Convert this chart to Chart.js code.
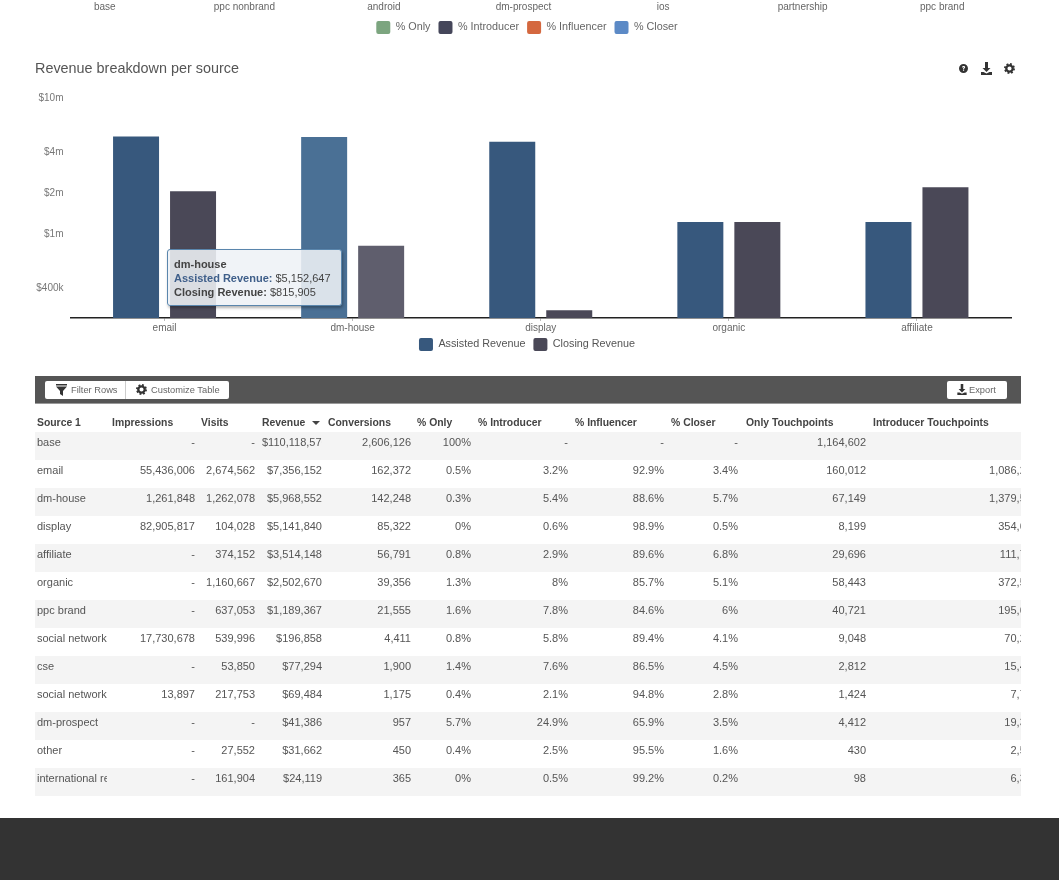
<!DOCTYPE html>
<html>
<head>
<meta charset="utf-8">
<title>Revenue breakdown per source</title>
<script src="https://cdn.jsdelivr.net/npm/chart.js@4"></script>
<style>
  html, body { margin: 0; padding: 0; background: #fff; }
  body { width: 1059px; height: 880px; overflow: hidden; position: relative; font-family: "Liberation Sans", Arial, sans-serif; color: #555; }
  canvas { position: absolute; left: 0; }
  #title { position: absolute; left: 35px; top: 59px; font-size: 14.4px; line-height: 19px; color: #555; will-change: transform; }
  .icon { position: absolute; fill: #333; }
  #tip { position: absolute; left: 167px; top: 249px; width: 175px; height: 57px; box-sizing: border-box; padding: 7px 0 0 6px; font-size: 11px; line-height: 14px; color: #444; background: rgba(238,241,246,.88); border: 1px solid #5a86ad; border-radius: 3px; box-shadow: 1px 2px 3px rgba(0,0,0,.3); will-change: transform; }
  #tip b.a { color: #3f5f8a; }
  #toolbar { position: absolute; left: 35px; top: 376px; width: 986px; height: 28px; background: #555; border-bottom: 1px solid #999; box-sizing: border-box; will-change: transform; }
  .btn { position: absolute; top: 5px; height: 18px; box-sizing: border-box; background: #fff; font-size: 9.3px; line-height: 18px; color: #666; white-space: nowrap; }
  .btn svg { position: absolute; top: 3px; fill: #333; }
  #table { position: absolute; left: 35px; top: 410px; width: 986px; height: 386px; overflow: hidden; font-size: 11px; will-change: transform; }
  .row { position: absolute; left: 0; width: 986px; height: 28px; }
  .cell { position: absolute; top: 4px; line-height: 13px; overflow: hidden; white-space: nowrap; text-align: right; }
  .head { position: absolute; top: 6px; line-height: 13px; font-weight: bold; font-size: 10.4px; color: #444; white-space: nowrap; }
  #footer { position: absolute; left: 0; top: 818px; width: 1059px; height: 62px; background: #333; }
</style>
</head>
<body>
<svg width="0" height="0" style="position:absolute">
  <symbol id="gear" viewBox="0 0 24 24">
    <circle cx="12" cy="12" r="7" fill="none" stroke="#333" stroke-width="5"/>
    <circle cx="12" cy="12" r="10" fill="none" stroke="#333" stroke-width="4" stroke-dasharray="4 3.854"/>
  </symbol>
  <symbol id="dl" viewBox="0 0 11 13"><path fill="#333" d="M4 0h3v6h2.500L5.500 10 1.500 6H4zM0 10h2.500l3 1.500 3-1.500H11v3H0z"/></symbol>
</svg>
<canvas id="topChart" width="1059" height="144" style="top:-100px"></canvas>
<div id="title">Revenue breakdown per source</div>
<svg class="icon" style="left:959px;top:64px" width="9" height="9" viewBox="0 0 10 10"><path fill-rule="evenodd" d="M5 0a5 5 0 1 1 0 10A5 5 0 0 1 5 0zM3.400 3.900h1.300c0-.5.700-.6.700-.1 0 .5-1 .7-1 1.800h1.200c0-.8 1.200-1 1.200-2 0-1.900-3.400-1.900-3.400.3zM4.400 6.200v1.300h1.300V6.200z"/></svg>
<svg class="icon" style="left:981px;top:62px" width="11" height="13"><use href="#dl"/></svg>
<svg class="icon" style="left:1004px;top:63px" width="11" height="11"><use href="#gear"/></svg>
<canvas id="revChart" width="1059" height="281" style="top:85px"></canvas>
<div id="tip"></div>
<div id="toolbar">
  <div class="btn" style="left:10px;width:81px;padding-left:26px;border-right:1px solid #ccc;border-radius:2px 0 0 2px">
    <svg style="left:11px" width="11" height="12" viewBox="0 0 11 12"><path d="M0 0h11v1.500H0zM0 2.500h11L7 7v5L4 10V7z"/></svg>Filter Rows</div>
  <div class="btn" style="left:91px;width:103px;padding-left:25px;border-radius:0 2px 2px 0">
    <svg style="left:10px" width="11" height="11"><use href="#gear"/></svg>Customize Table</div>
  <div class="btn" style="left:912px;width:60px;padding-left:22px;border-radius:2px">
    <svg style="left:10px" width="10" height="11"><use href="#dl"/></svg>Export</div>
</div>
<div id="table"></div>
<div id="footer"></div>

<script>
// previous panel, only its axis labels and legend are still on screen
const topLabels = ['base', 'ppc nonbrand', 'android', 'dm-prospect', 'ios', 'partnership', 'ppc brand'];
const topSeries = ['% Only', '% Introducer', '% Influencer', '% Closer'];
const topColors = ['#7ca57f', '#45465a', '#d4683f', '#5c8ac6'];

// revenue chart
const sources = ['email', 'dm-house', 'display', 'organic', 'affiliate'];
const assistedRevenue = [5200000, 5152647, 4770000, 1220000, 1220000];
const closingRevenue = [2060000, 815905, 274000, 1220000, 2200000];
const yTicks = [400000, 1000000, 2000000, 4000000, 10000000];
const hoveredIndex = 1;

// table
const tableHeads = ['Source 1', 'Impressions', 'Visits', 'Revenue', 'Conversions', '% Only', '% Introducer', '% Influencer', '% Closer', 'Only Touchpoints', 'Introducer Touchpoints'];
const tableSources = ['base', 'email', 'dm-house', 'display', 'affiliate', 'organic', 'ppc brand', 'social network', 'cse', 'social network', 'dm-prospect', 'other', 'international reach'];
const impressions = ['-', '55,436,006', '1,261,848', '82,905,817', '-', '-', '-', '17,730,678', '-', '13,897', '-', '-', '-'];
const visits = ['-', '2,674,562', '1,262,078', '104,028', '374,152', '1,160,667', '637,053', '539,996', '53,850', '217,753', '-', '27,552', '161,904'];
const revenue = ['$110,118,570', '$7,356,152', '$5,968,552', '$5,141,840', '$3,514,148', '$2,502,670', '$1,189,367', '$196,858', '$77,294', '$69,484', '$41,386', '$31,662', '$24,119'];
const conversions = ['2,606,126', '162,372', '142,248', '85,322', '56,791', '39,356', '21,555', '4,411', '1,900', '1,175', '957', '450', '365'];
const pctOnly = ['100%', '0.5%', '0.3%', '0%', '0.8%', '1.3%', '1.6%', '0.8%', '1.4%', '0.4%', '5.7%', '0.4%', '0%'];
const pctIntroducer = ['-', '3.2%', '5.4%', '0.6%', '2.9%', '8%', '7.8%', '5.8%', '7.6%', '2.1%', '24.9%', '2.5%', '0.5%'];
const pctInfluencer = ['-', '92.9%', '88.6%', '98.9%', '89.6%', '85.7%', '84.6%', '89.4%', '86.5%', '94.8%', '65.9%', '95.5%', '99.2%'];
const pctCloser = ['-', '3.4%', '5.7%', '0.5%', '6.8%', '5.1%', '6%', '4.1%', '4.5%', '2.8%', '3.5%', '1.6%', '0.2%'];
const onlyTouch = ['1,164,602', '160,012', '67,149', '8,199', '29,696', '58,443', '40,721', '9,048', '2,812', '1,424', '4,412', '430', '98'];
const introTouch = ['', '1,086,240', '1,379,510', '354,610', '111,720', '372,510', '195,610', '70,240', '15,410', '7,720', '19,310', '2,510', '6,310'];

const fontName = '"Liberation Sans", Arial, sans-serif';
Chart.defaults.animation = false;
Chart.defaults.font.family = fontName;

// legend sits closer to the axis than chart.js would put it
const legendNudge = {
    id: 'legendNudge',
    afterLayout(chart, args, opts) { chart.legend.top += opts.dy; }
};

// invisible right hand axis, keeps the legend centred where the reference has it
const spacerAxis = width => ({
    position: 'right',
    min: 0,
    max: 1,
    grid: { display: false },
    border: { display: false },
    ticks: { display: false },
    afterFit: scale => { scale.width = width; }
});

new Chart(document.getElementById('topChart'), {
    type: 'bar',
    plugins: [legendNudge],
    data: {
        labels: topLabels,
        datasets: topSeries.map((name, i) => ({ label: name, data: [], backgroundColor: topColors[i] }))
    },
    options: {
        responsive: false,
        layout: { padding: { left: 35, right: 40 } },
        plugins: {
            tooltip: { enabled: false },
            legendNudge: { dy: 0 },
            legend: {
                position: 'bottom',
                labels: { boxWidth: 14, boxHeight: 13, padding: 8, useBorderRadius: true, borderRadius: 2, color: '#666', font: { size: 10.8 } }
            }
        },
        scales: {
            x: {
                grid: { display: false },
                border: { color: '#ddd', width: 2 },
                ticks: { color: '#666', font: { size: 10 }, padding: 0, maxRotation: 0 }
            },
            y: spacerAxis(7)
        }
    }
});

const money = v => '$' + v.toLocaleString('en-US');

function drawTip(context) {
    const tip = document.getElementById('tip');
    const points = context.tooltip.dataPoints;
    if (!points || !points.length) return;
    const i = points[0].dataIndex;
    tip.innerHTML = '<b>' + sources[i] + '</b><br>' +
        '<b class="a">Assisted Revenue:</b> ' + money(assistedRevenue[i]) + '<br>' +
        '<b>Closing Revenue:</b> ' + money(closingRevenue[i]);
}

const revChart = new Chart(document.getElementById('revChart'), {
    type: 'bar',
    plugins: [legendNudge],
    data: {
        labels: sources,
        datasets: [
            { label: 'Assisted Revenue', data: assistedRevenue, backgroundColor: '#37587d', hoverBackgroundColor: '#4a7095', borderWidth: 0 },
            { label: 'Closing Revenue', data: closingRevenue, backgroundColor: '#4a4857', hoverBackgroundColor: '#5f5e6d', borderWidth: 0 }
        ]
    },
    options: {
        responsive: false,
        categoryPercentage: 0.606,
        barPercentage: 0.807,
        layout: { padding: { left: 35, right: 40, top: 10 } },
        interaction: { mode: 'index', intersect: false },
        plugins: {
            tooltip: { enabled: false, external: drawTip },
            legendNudge: { dy: -5 },
            legend: {
                position: 'bottom',
                labels: { boxWidth: 14, boxHeight: 13, padding: 8, useBorderRadius: true, borderRadius: 2, color: '#555', font: { size: 10.8 } }
            }
        },
        scales: {
            x: {
                grid: { drawOnChartArea: false, offset: false, tickLength: 3, tickColor: '#bbb' },
                border: { color: '#222', width: 1.5 },
                ticks: { color: '#666', font: { size: 10 }, padding: 1 }
            },
            y: {
                type: 'logarithmic',
                min: 240000,
                max: 10000000,
                grid: { display: false, drawTicks: false },
                border: { display: false },
                afterBuildTicks: scale => { scale.ticks = yTicks.map(value => ({ value })); },
                afterFit: scale => { scale.width = 35.5; },
                ticks: {
                    color: '#777',
                    padding: 7,
                    font: { size: 10 },
                    callback: v => v >= 1000000 ? '$' + v / 1000000 + 'm' : '$' + v / 1000 + 'k'
                }
            },
            spacer: spacerAxis(8)
        }
    }
});

const hovered = [{ datasetIndex: 0, index: hoveredIndex }, { datasetIndex: 1, index: hoveredIndex }];
revChart.setActiveElements(hovered);
revChart.tooltip.setActiveElements(hovered, { x: 353, y: 230 });
revChart.update();

// table, header left edges and cell left/right edges in px from the table's left side
const headLeft = [2, 77, 166, 227, 293, 382, 443, 540, 636, 711, 838];
const cellLeft = [2, 72, 166, 227, 293, 382, 443, 540, 636, 711, 838];
const cellRight = [72, 160, 220, 287, 376, 436, 533, 629, 703, 831, 1003];
const tableCols = [tableSources, impressions, visits, revenue, conversions, pctOnly, pctIntroducer, pctInfluencer, pctCloser, onlyTouch, introTouch];

const tableEl = document.getElementById('table');
const head = document.createElement('div');
head.className = 'row';
tableHeads.forEach((name, c) => {
    const h = document.createElement('div');
    h.className = 'head';
    h.style.left = headLeft[c] + 'px';
    h.textContent = name;
    head.appendChild(h);
});
const arrow = document.createElement('div');
arrow.style.cssText = 'position:absolute;left:277px;top:11px;border:4px solid transparent;border-top:4px solid #444;border-bottom:0';
head.appendChild(arrow);
tableEl.appendChild(head);

tableSources.forEach((_, r) => {
    const row = document.createElement('div');
    row.className = 'row';
    row.style.top = 22 + r * 28 + 'px';
    if (r % 2 === 0) row.style.background = '#f4f4f4';
    tableCols.forEach((col, c) => {
        const cell = document.createElement('div');
        cell.className = 'cell';
        cell.style.left = cellLeft[c] + 'px';
        cell.style.width = cellRight[c] - cellLeft[c] + 'px';
        if (c === 0) cell.style.textAlign = 'left';
        cell.textContent = col[r];
        row.appendChild(cell);
    });
    tableEl.appendChild(row);
});
</script>
</body>
</html>
